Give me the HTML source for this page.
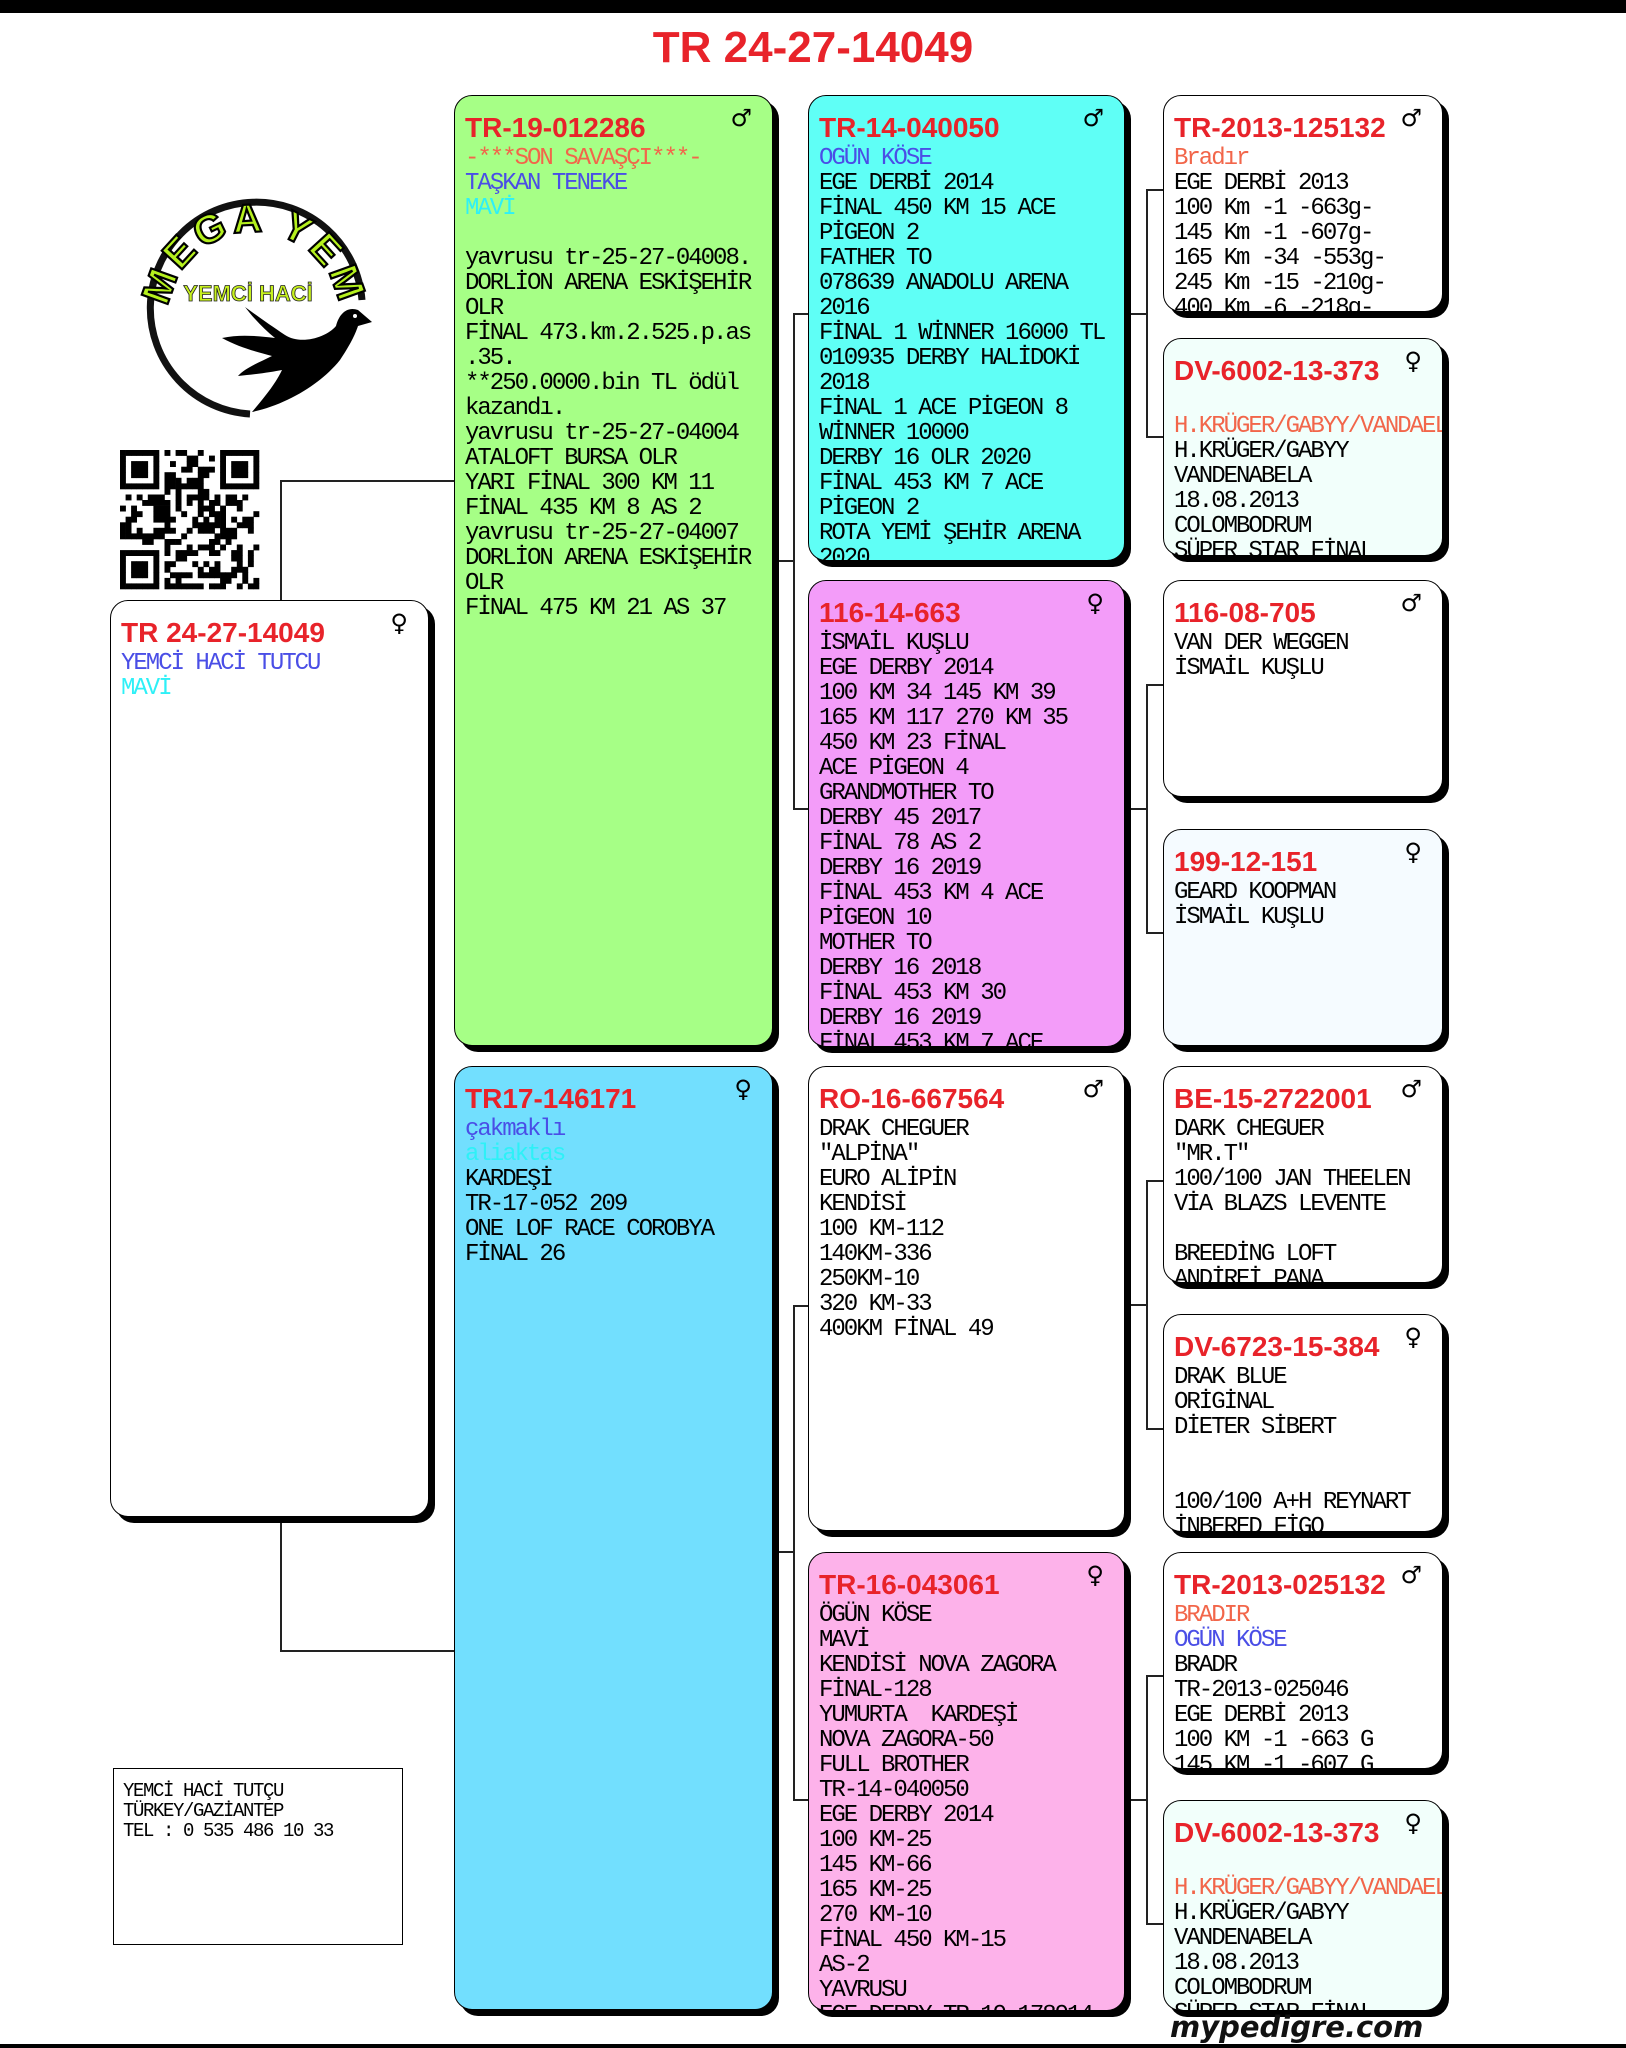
<!DOCTYPE html>
<html><head><meta charset="utf-8">
<style>
*{margin:0;padding:0}
body{width:1626px;height:2048px;position:relative;background:#fff;overflow:hidden;font-family:"Liberation Sans",sans-serif}
.bar{position:absolute;left:0;width:1626px;background:#000}
.title{position:absolute;left:0;width:1626px;top:22px;text-align:center;font:bold 44px/52px "Liberation Sans",sans-serif;color:#e8232a}
.b{position:absolute;border:1.5px solid #000;border-radius:18px;box-shadow:6px 6px 0 #000;overflow:hidden;box-sizing:border-box;padding:13px 0 0 10px;background:#fff}
.h{font:bold 28px/37px "Liberation Sans",sans-serif;color:#e8232a;white-space:nowrap}
.t{font:24px/25px "Liberation Mono",monospace;letter-spacing:-2px;white-space:pre;color:#000}
.g{position:absolute;right:20px;top:8px;font:24px "DejaVu Sans",sans-serif;color:#000}
.o{color:#f2664a}.bl{color:#4a4ee6}.cy{color:#2ef0f7}
.c1{left:454px;width:319px}
.c2{left:808px;width:317px}
.c3{left:1163px;width:280px}
</style></head><body>
<div class="bar" style="top:0;height:13px"></div>
<div class="bar" style="top:2044px;height:4px"></div>
<div class="title">TR 24-27-14049</div>

<svg style="position:absolute;left:0;top:0" width="1626" height="2048">
<g stroke="#222" stroke-width="2" fill="none">
<polyline points="281,600 281,481 454,481"/>
<polyline points="281,1516 281,1651 454,1651"/>
<polyline points="808,314 794,314 794,809 808,809"/><line x1="773" y1="561" x2="794" y2="561"/>
<polyline points="808,1306 794,1306 794,1800 808,1800"/><line x1="773" y1="1552" x2="794" y2="1552"/>
<polyline points="1163,190 1147,190 1147,437 1163,437"/><line x1="1125" y1="314" x2="1147" y2="314"/>
<polyline points="1163,685 1147,685 1147,933 1163,933"/><line x1="1125" y1="809" x2="1147" y2="809"/>
<polyline points="1163,1181 1147,1181 1147,1429 1163,1429"/><line x1="1125" y1="1305" x2="1147" y2="1305"/>
<polyline points="1163,1676 1147,1676 1147,1924 1163,1924"/><line x1="1125" y1="1800" x2="1147" y2="1800"/>
</g>
<!-- logo -->
<path d="M362,300 A106,106 0 1 0 250,414" stroke="#111" stroke-width="7" fill="none"/>
<path id="arcp" d="M168,318 A86,86 0 0 1 340,318" fill="none"/>
<text font-family="Liberation Sans" font-weight="bold" font-size="40" fill="#b5f01e" stroke="#000" stroke-width="2.2" letter-spacing="4"><textPath href="#arcp" startOffset="50%" text-anchor="middle">MEGA YEM</textPath></text>
<text x="248" y="301" text-anchor="middle" font-family="Liberation Sans" font-weight="bold" font-size="22" fill="#c8f21e" stroke="#222" stroke-width="0.8">YEMCİ HACİ</text>
<path d="M372,322 L358,310 C347,306 339,314 336,326 C326,338 300,345 285,335 C270,325 256,315 245,307 C255,320 265,330 275,338 C258,336 240,334 222,338 C240,348 258,352 272,356 C260,362 245,368 238,376 C258,374 272,372 282,370 C275,385 262,400 252,412 C285,405 320,385 340,360 C350,345 355,335 358,326 Z" fill="#000"/>
<circle cx="355" cy="316" r="2" fill="#fff"/>
<g id="qr"></g>
</svg>

<!-- subject -->
<div class="b" style="left:110px;top:600px;width:319px;height:917px"><div class="g">♀</div><div class="h">TR 24-27-14049</div><div class="t"><span class="bl">YEMCİ HACİ TUTCU</span>
<span class="cy">MAVİ</span></div></div>

<div class="b c1" style="top:95px;height:951px;background:#a6ff86"><div class="g">♂</div><div class="h">TR-19-012286</div><div class="t"><span class="o">-***SON SAVAŞÇI***-</span>
<span class="bl">TAŞKAN TENEKE</span>
<span class="cy">MAVİ</span>

yavrusu tr-25-27-04008.
DORLİON ARENA ESKİŞEHİR
OLR
FİNAL 473.km.2.525.p.as
.35.
**250.0000.bin TL ödül
kazandı.
yavrusu tr-25-27-04004
ATALOFT BURSA OLR
YARI FİNAL 300 KM 11
FİNAL 435 KM 8 AS 2
yavrusu tr-25-27-04007
DORLİON ARENA ESKİŞEHİR
OLR
FİNAL 475 KM 21 AS 37</div></div>

<div class="b c1" style="top:1066px;height:944px;background:#72dffe"><div class="g">♀</div><div class="h">TR17-146171</div><div class="t"><span class="bl">çakmaklı</span>
<span class="cy">aliaktas</span>
KARDEŞİ
TR-17-052 209
ONE LOF RACE COROBYA
FİNAL 26</div></div>

<div class="b c2" style="top:95px;height:466px;background:#5ffff6"><div class="g">♂</div><div class="h">TR-14-040050</div><div class="t"><span class="bl">OGÜN KÖSE</span>
EGE DERBİ 2014
FİNAL 450 KM 15 ACE
PİGEON 2
FATHER TO
078639 ANADOLU ARENA
2016
FİNAL 1 WİNNER 16000 TL
010935 DERBY HALİDOKİ
2018
FİNAL 1 ACE PİGEON 8
WİNNER 10000
DERBY 16 OLR 2020
FİNAL 453 KM 7 ACE
PİGEON 2
ROTA YEMİ ŞEHİR ARENA
2020</div></div>

<div class="b c2" style="top:580px;height:467px;background:#f39cf9"><div class="g">♀</div><div class="h">116-14-663</div><div class="t">İSMAİL KUŞLU
EGE DERBY 2014
100 KM 34 145 KM 39
165 KM 117 270 KM 35
450 KM 23 FİNAL
ACE PİGEON 4
GRANDMOTHER TO
DERBY 45 2017
FİNAL 78 AS 2
DERBY 16 2019
FİNAL 453 KM 4 ACE
PİGEON 10
MOTHER TO
DERBY 16 2018
FİNAL 453 KM 30
DERBY 16 2019
FİNAL 453 KM 7 ACE</div></div>

<div class="b c2" style="top:1066px;height:465px"><div class="g">♂</div><div class="h">RO-16-667564</div><div class="t">DRAK CHEGUER
″ALPİNA″
EURO ALİPİN
KENDİSİ
100 KM-112
140KM-336
250KM-10
320 KM-33
400KM FİNAL 49</div></div>

<div class="b c2" style="top:1552px;height:459px;background:#fdb2ea"><div class="g">♀</div><div class="h">TR-16-043061</div><div class="t">ÖGÜN KÖSE
MAVİ
KENDİSİ NOVA ZAGORA
FİNAL-128
YUMURTA  KARDEŞİ
NOVA ZAGORA-50
FULL BROTHER
TR-14-040050
EGE DERBY 2014
100 KM-25
145 KM-66
165 KM-25
270 KM-10
FİNAL 450 KM-15
AS-2
YAVRUSU
EGE DERBY TR-19-178914</div></div>

<div class="b c3" style="top:95px;height:217px"><div class="g">♂</div><div class="h">TR-2013-125132</div><div class="t"><span class="o">Bradır</span>
EGE DERBİ 2013
100 Km -1 -663g-
145 Km -1 -607g-
165 Km -34 -553g-
245 Km -15 -210g-
400 Km -6 -218g-</div></div>

<div class="b c3" style="top:338px;height:218px;background:#f2fffb"><div class="g">♀</div><div class="h">DV-6002-13-373</div><div class="t">
<span class="o">H.KRÜGER/GABYY/VANDAELE</span>
H.KRÜGER/GABYY
VANDENABELA
18.08.2013
COLOMBODRUM
SÜPER STAR FİNAL</div></div>

<div class="b c3" style="top:580px;height:217px"><div class="g">♂</div><div class="h">116-08-705</div><div class="t">VAN DER WEGGEN
İSMAİL KUŞLU</div></div>

<div class="b c3" style="top:829px;height:217px;background:#f5fbff"><div class="g">♀</div><div class="h">199-12-151</div><div class="t">GEARD KOOPMAN
İSMAİL KUŞLU</div></div>

<div class="b c3" style="top:1066px;height:217px"><div class="g">♂</div><div class="h">BE-15-2722001</div><div class="t">DARK CHEGUER
″MR.T″
100/100 JAN THEELEN
VİA BLAZS LEVENTE

BREEDİNG LOFT
ANDİREİ PANA</div></div>

<div class="b c3" style="top:1314px;height:218px"><div class="g">♀</div><div class="h">DV-6723-15-384</div><div class="t">DRAK BLUE
ORİGİNAL
DİETER SİBERT


100/100 A+H REYNART
İNBERED FİGO</div></div>

<div class="b c3" style="top:1552px;height:217px"><div class="g">♂</div><div class="h">TR-2013-025132</div><div class="t"><span class="o">BRADIR</span>
<span class="bl">OGÜN KÖSE</span>
BRADR
TR-2013-025046
EGE DERBİ 2013
100 KM -1 -663 G
145 KM -1 -607 G</div></div>

<div class="b c3" style="top:1800px;height:211px;background:#f2fffb"><div class="g">♀</div><div class="h">DV-6002-13-373</div><div class="t">
<span class="o">H.KRÜGER/GABYY/VANDAELE</span>
H.KRÜGER/GABYY
VANDENABELA
18.08.2013
COLOMBODRUM
SÜPER STAR FİNAL</div></div>

<div style="position:absolute;left:113px;top:1768px;width:290px;height:177px;border:1.5px solid #000;box-sizing:border-box;padding:12px 0 0 9px;font:19px/20px 'Liberation Mono',monospace;letter-spacing:-1.4px;white-space:pre">YEMCİ HACİ TUTÇU
TÜRKEY/GAZİANTEP
TEL : 0 535 486 10 33</div>

<div style="position:absolute;left:1170px;top:2010px;font:italic bold 29px/34px 'DejaVu Sans',sans-serif;color:#111">mypedigre.com</div>

<script>
(function(){
var g=document.getElementById('qr'),N=25,s=139/25,x0=120,y0=450,h='';
var seed=7;function r(){seed=(seed*16807)%2147483647;return seed/2147483647;}
function f(i,j){var c=[[0,0],[0,18],[18,0]];for(var k=0;k<3;k++){var a=i-c[k][0],b=j-c[k][1];if(a>=-1&&a<=7&&b>=-1&&b<=7){if(a<0||a>6||b<0||b>6)return 0;if(a==0||a==6||b==0||b==6)return 1;if(a==1||a==5||b==1||b==5)return 0;return 1;}}return -1;}
for(var i=0;i<N;i++)for(var j=0;j<N;j++){var v=f(i,j);if(v<0)v=r()<0.52?1:0;if(v)h+='<rect x="'+(x0+j*s).toFixed(1)+'" y="'+(y0+i*s).toFixed(1)+'" width="'+(s+0.3).toFixed(1)+'" height="'+(s+0.3).toFixed(1)+'" fill="#000"/>';}
g.innerHTML=h;})();
</script>
</body></html>
